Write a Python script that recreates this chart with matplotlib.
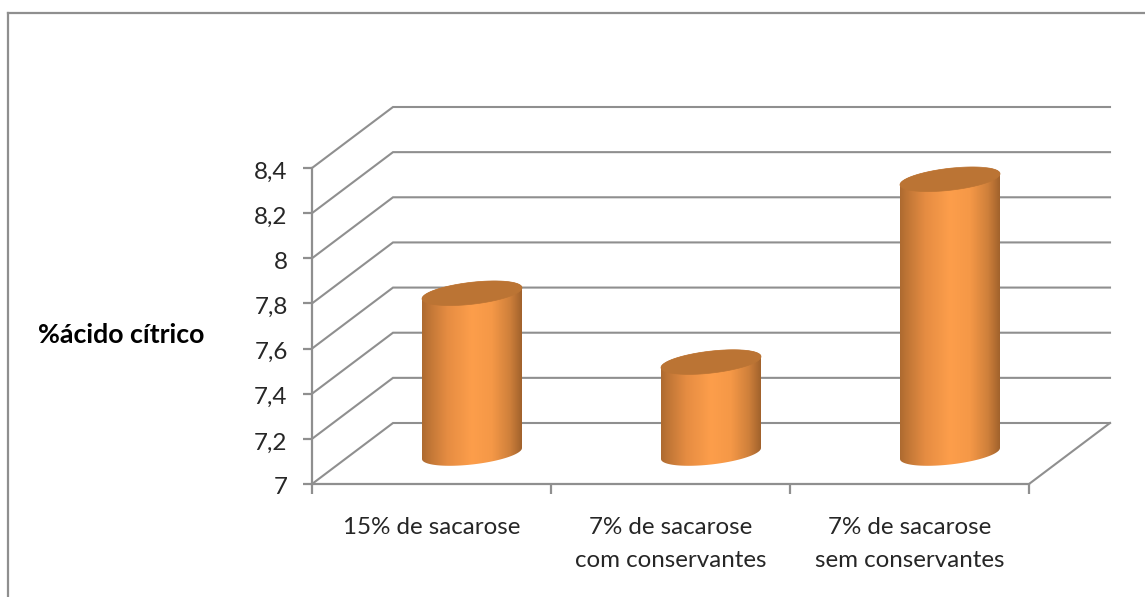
import numpy as np
import matplotlib
matplotlib.use("Agg")
import matplotlib.pyplot as plt
from matplotlib.colors import LinearSegmentedColormap
from matplotlib.lines import Line2D
from matplotlib.patches import Polygon
from matplotlib.transforms import ScaledTranslation

# Chart data
categories = ["15% de sacarose", "7% de sacarose\ncom conservantes", "7% de sacarose\nsem conservantes"]
acid_values = [7.71, 7.405, 8.215]
y_ticks = [7.0, 7.2, 7.4, 7.6, 7.8, 8.0, 8.2, 8.4]
y_tick_labels = ["7", "7,2", "7,4", "7,6", "7,8", "8", "8,2", "8,4"]
y_title = "%ácido cítrico"

W, H = 1145, 597
GRAY = "#8f8f8f"
plt.rcParams["font.family"] = ["Lato", "DejaVu Sans"]

fig = plt.figure(figsize=(W / 100, H / 100), dpi=100, facecolor="white")
ax = fig.add_axes([312 / W, (H - 484) / H, 717 / W, 316 / H])
ax.set_xlim(0, len(categories))
ax.set_ylim(y_ticks[0], y_ticks[-1])
ax.patch.set_alpha(0)

# Oblique projection of the 3D box, in data units
x_unit = 717 / len(categories)
y_unit = 316 / (y_ticks[-1] - y_ticks[0])
depth_x = 81 / x_unit
depth_y = 61 / y_unit

# Back wall gridlines, side wall lines and the floor edge
for v in y_ticks:
    ax.plot([0, depth_x, len(categories) + depth_x], [v, v + depth_y, v + depth_y],
            color=GRAY, lw=1.5, clip_on=False, zorder=1, solid_joinstyle="miter")
ax.plot([len(categories), len(categories) + depth_x], [y_ticks[0], y_ticks[0] + depth_y],
        color=GRAY, lw=1.5, clip_on=False, zorder=1)

# Cylinder shape: half width and the tilted elliptical caps
half_w = 50 / x_unit
cap_b = 11 / y_unit
cap_k = 5.5 / y_unit

side_cmap = LinearSegmentedColormap.from_list(
    "side",
    [(0.0, "#ad6a30"), (0.06, "#bd7435"), (0.25, "#e58c42"), (0.5, "#fd9e4b"),
     (0.7, "#f59847"), (0.88, "#cf803b"), (1.0, "#a1622c")],
)
gradient = np.linspace(0, 1, 256).reshape(1, -1)


def cap_points(cx, cy, t):
    return np.column_stack([
        cx + half_w * np.cos(t),
        cy + cap_b * np.sin(t) + cap_k * np.cos(t),
    ])


base = y_ticks[0] + depth_y / 2
for i, value in enumerate(acid_values):
    cx = i + 0.5 + depth_x / 2
    top = value + depth_y / 2
    # Body outline: top arc from right to left, then bottom arc from left to right
    upper = cap_points(cx, top, np.linspace(0, np.pi, 60))
    lower = cap_points(cx, base, np.linspace(np.pi, 2 * np.pi, 60))
    body = Polygon(np.vstack([upper, lower]), closed=True, transform=ax.transData,
                   facecolor="none", edgecolor="none")
    ax.add_patch(body)
    img = ax.imshow(gradient, cmap=side_cmap, aspect="auto", zorder=3, interpolation="bilinear",
                    extent=[cx - half_w, cx + half_w, base - 3 * cap_b, top + 3 * cap_b])
    img.set_clip_path(body)
    cap = Polygon(cap_points(cx, top, np.linspace(0, 2 * np.pi, 120)), closed=True,
                  facecolor="#bb7434", edgecolor="#bb7434", lw=0.5, zorder=4, clip_on=False)
    ax.add_patch(cap)

ax.set_xlim(0, len(categories))
ax.set_ylim(y_ticks[0], y_ticks[-1])

# Axes, ticks and labels
for name in ("top", "right"):
    ax.spines[name].set_visible(False)
for name in ("left", "bottom"):
    ax.spines[name].set_color(GRAY)
    ax.spines[name].set_linewidth(1.6)
    ax.spines[name].set_zorder(2)

ax.set_yticks(y_ticks)
ax.set_yticklabels(y_tick_labels, fontsize=17.5, color="#262626")
ax.tick_params(axis="y", length=6.5, width=1.6, color=GRAY, pad=11)
# Nudge the value labels down so their digits sit level with the ticks
nudge = ScaledTranslation(0, -2 / 100, fig.dpi_scale_trans)
for label in ax.get_yticklabels():
    label.set_transform(label.get_transform() + nudge)

ax.set_xticks(np.arange(len(categories) + 1))
ax.set_xticklabels([])
ax.tick_params(axis="x", which="major", length=7, width=1.6, color=GRAY)
ax.set_xticks(np.arange(len(categories)) + 0.5, minor=True)
ax.set_xticklabels(categories, minor=True, fontsize=17.4, color="#262626", linespacing=1.72)
ax.tick_params(axis="x", which="minor", length=0, pad=23.5)

ax.set_ylabel(y_title, rotation=0, fontsize=19.3, fontweight="bold", color="black",
              ha="center", va="center")
ax.yaxis.set_label_coords((121.5 - 312) / 717, (484 - 335) / 316)

# Chart frame, cut by the right and bottom edges of the canvas
frame_x = 8 / W
frame_y = 1 - 12.5 / H
fig.add_artist(Line2D([frame_x, frame_x], [0, frame_y], color=GRAY, lw=1.6, transform=fig.transFigure))
fig.add_artist(Line2D([frame_x, 1], [frame_y, frame_y], color=GRAY, lw=1.6, transform=fig.transFigure))

fig.savefig("out.png", dpi=100, facecolor="white")
